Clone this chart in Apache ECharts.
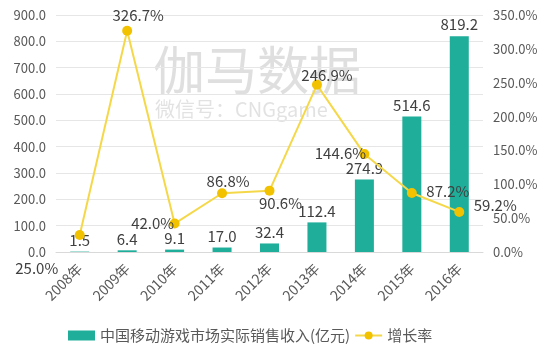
<!DOCTYPE html>
<html><head><meta charset="utf-8">
<script src="https://cdn.jsdelivr.net/npm/echarts@6/dist/echarts.min.js"></script>
<style>html,body{margin:0;padding:0;background:#fff}#c{width:550px;height:360px}</style>
</head><body><div id="c"></div>
<script>
const categories = ['2008年','2009年','2010年','2011年','2012年','2013年','2014年','2015年','2016年'];
const revenue = [1.5, 6.4, 9.1, 17.0, 32.4, 112.4, 274.9, 514.6, 819.2];
const growth = [25.0, 326.7, 42.0, 86.8, 90.6, 246.9, 144.6, 87.2, 59.2];
const growthLabelOffsets = [[-43,33],[11,-15],[-22,0],[6,-12],[11,13],[10,-10],[-24,-1],[36,-2],[36,-7]];

const chart = echarts.init(document.getElementById('c'));
chart.setOption({
  animation: false,
  textStyle: {fontFamily: '"Noto Sans CJK SC", "Noto Sans", sans-serif'},
  grid: {left: 56, right: 67, top: 15, bottom: 108},
  graphic: [
    {type: 'text', left: 153, top: 44, z: 0, style: {text: '伽马数据', fontSize: 52, fill: 'rgba(150,150,150,0.3)', fontFamily: '"Noto Sans CJK SC"'}},
    {type: 'text', left: 155, top: 99, z: 0, style: {text: '微信号：CNGgame', fontSize: 20, fill: 'rgba(150,150,150,0.28)', fontFamily: '"Noto Sans CJK SC"'}}
  ],
  legend: {
    left: 63, bottom: 12, itemWidth: 27, itemHeight: 10, itemGap: 4,
    textStyle: {fontSize: 15, color: '#595959'},
    data: [{name: '中国移动游戏市场实际销售收入(亿元)', icon: 'rect'}, {name: '增长率'}]
  },
  xAxis: {
    type: 'category', data: categories,
    axisLine: {lineStyle: {color: '#d9d9d9'}}, axisTick: {show: false},
    axisLabel: {rotate: 45, fontSize: 14, color: '#595959', margin: 14}
  },
  yAxis: [
    {type: 'value', min: 0, max: 900, interval: 100,
     axisLabel: {formatter: v => v.toFixed(1), fontSize: 13, color: '#595959', margin: 10},
     splitLine: {lineStyle: {color: '#e6e6e6'}}, axisLine: {show: false}, axisTick: {show: false}},
    {type: 'value', min: 0, max: 350, interval: 50,
     axisLabel: {formatter: v => v.toFixed(1) + '%', fontSize: 13, color: '#595959', margin: 10},
     splitLine: {show: false}, axisLine: {show: false}, axisTick: {show: false}}
  ],
  series: [
    {name: '中国移动游戏市场实际销售收入(亿元)', type: 'bar', data: revenue, barWidth: 19,
     itemStyle: {color: '#1fae9a'},
     label: {show: true, position: 'top', distance: 4, formatter: p => p.value.toFixed(1), fontSize: 15, color: '#404040'}},
    {name: '增长率', type: 'line', yAxisIndex: 1, symbol: 'circle', symbolSize: 10,
     data: growth.map((v, i) => ({value: v, label: {offset: growthLabelOffsets[i]}})),
     lineStyle: {color: '#f5d84a', width: 2},
     itemStyle: {color: '#f2c200'},
     label: {show: true, position: 'inside', formatter: p => p.value.toFixed(1) + '%', fontSize: 15, color: '#404040'}}
  ]
});
</script></body></html>
